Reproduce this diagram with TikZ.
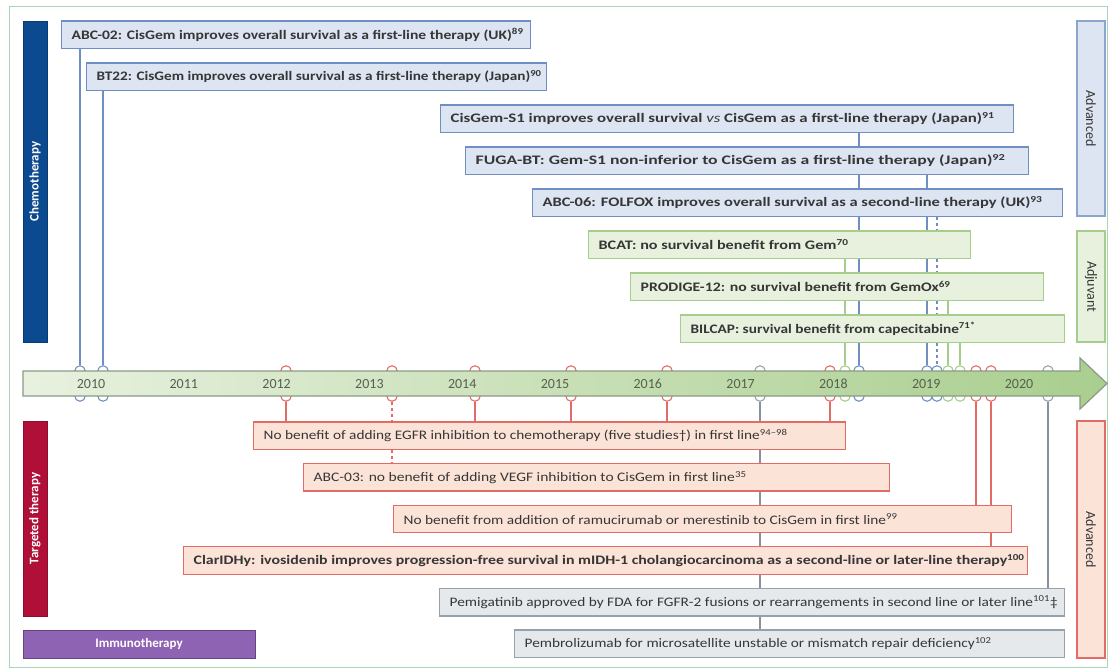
\documentclass[tikz,border=0pt]{standalone}
\usepackage{fontspec}
\usepackage{graphicx}
\setmainfont{Carlito}
\definecolor{chemoBar}{HTML}{0B4A8E}
\definecolor{targBar}{HTML}{B01038}
\definecolor{immBar}{HTML}{8F63B3}
\definecolor{cFill}{HTML}{DDE4F2}
\definecolor{cLine}{HTML}{6F8FC3}
\definecolor{aFill}{HTML}{E7F1DE}
\definecolor{aLine}{HTML}{A5CD8B}
\definecolor{tFill}{HTML}{FCE3D8}
\definecolor{tLine}{HTML}{E36B66}
\definecolor{gFill}{HTML}{E5E9EC}
\definecolor{gLine}{HTML}{97A1AA}
\definecolor{frameC}{HTML}{A6D6B6}
\definecolor{txt}{HTML}{363636}
\definecolor{barL}{HTML}{E8F1DF}
\definecolor{barR}{HTML}{A9CE8E}
\definecolor{barD}{HTML}{8A9A86}
\definecolor{yearC}{HTML}{55604F}
% #1 inner width of the box, #2 printed width of the text, #3 text
\newcommand\boxtxt[3]{\makebox[#1pt][l]{\resizebox{#2pt}{\height}{#3}}}
\pgfdeclarelayer{bg}
\pgfsetlayers{bg,main}
\tikzset{
  tbox/.style={draw, line width=1.3, anchor=west, minimum height=27.5, inner xsep=10, inner ysep=0,
    font=\fontsize{13}{15}\selectfont, text=txt},
  cbox/.style={tbox, fill=cFill, draw=cLine},
  abox/.style={tbox, fill=aFill, draw=aLine},
  rbox/.style={tbox, fill=tFill, draw=tLine},
  gbox/.style={tbox, fill=gFill, draw=gLine},
  sidebar/.style={minimum height=24, inner sep=0, text=white, font=\fontsize{13}{15}\selectfont\bfseries},
  rlabel/.style={rotate=-90, minimum height=28, inner sep=0, line width=1.3, text=txt, font=\fontsize{14}{16}\selectfont},
  ev/.style={circle, draw=#1, fill=white, line width=1.1, minimum size=10.5, inner sep=0},
  cl/.style={draw=cLine, line width=1.3},
  al/.style={draw=aLine, line width=1.3},
  tl/.style={draw=tLine, line width=1.3},
  gl/.style={draw=gLine!90!black, line width=1.3},
  yearlab/.style={text=yearC, font=\fontsize{14}{16}\selectfont}
}
\begin{document}
\begin{tikzpicture}[x=1pt,y=-1pt]
\useasboundingbox (0,0) rectangle (1109,670);
\draw[frameC, line width=1] (9,6) rectangle (1107,667);

% category bars
\node[sidebar, fill=chemoBar, draw=chemoBar!80!black, rotate=90, minimum width=321] (chemo) at (35,181.5) {Chemotherapy};
\node[sidebar, fill=targBar, draw=targBar!80!black, rotate=90, minimum width=195] (targ) at (35,518.5) {Targeted therapy};
\node[sidebar, fill=immBar, draw=immBar!70!black, minimum width=232, minimum height=28] (immuno) at (139,644) {Immunotherapy};

% right labels
\node[rlabel, fill=cFill, draw=cLine!80, minimum width=195] (adv1) at (1091,118.5) {Advanced};
\node[rlabel, fill=aFill, draw=aLine, minimum width=111] (adj) at (1091,286.5) {Adjuvant};
\node[rlabel, fill=tFill, draw=tLine, minimum width=237] (adv2) at (1091,539.5) {Advanced};

% chemotherapy / adjuvant boxes
\node[cbox] (abc02) at (61,34.75) {\boxtxt{449}{452}{\bfseries ABC-02: CisGem improves overall survival as a first-line therapy (UK)\textsuperscript{89}}};
\node[cbox] (bt22) at (86,76.75) {\boxtxt{440}{445}{\bfseries BT22: CisGem improves overall survival as a first-line therapy (Japan)\textsuperscript{90}}};
\node[cbox] (cisgem) at (440,118.75) {\boxtxt{553}{544}{\bfseries CisGem-S1 improves overall survival \textit{\mdseries vs} CisGem as a first-line therapy (Japan)\textsuperscript{91}}};
\node[cbox] (fuga) at (465,160.75) {\boxtxt{543}{530}{\bfseries FUGA-BT: Gem-S1 non-inferior to CisGem as a first-line therapy (Japan)\textsuperscript{92}}};
\node[cbox] (abc06) at (532,202.75) {\boxtxt{510}{500}{\bfseries ABC-06: FOLFOX improves overall survival as a second-line therapy (UK)\textsuperscript{93}}};
\node[abox] (bcat) at (588,244.75) {\boxtxt{362}{250}{\bfseries BCAT: no survival benefit from Gem\textsuperscript{70}}};
\node[abox] (prodige) at (630,286.75) {\boxtxt{393}{310}{\bfseries PRODIGE-12: no survival benefit from GemOx\textsuperscript{69}}};
\node[abox] (bilcap) at (680,328.75) {\boxtxt{364}{285}{\bfseries BILCAP: survival benefit from capecitabine\textsuperscript{71*}}};

% targeted / immunotherapy boxes
\node[rbox] (egfr) at (253,435.75) {\boxtxt{572}{524}{No benefit of adding EGFR inhibition to chemotherapy (five studies†) in first line\textsuperscript{94–98}}};
\node[rbox] (abc03) at (303,477.35) {\boxtxt{566}{433}{ABC-03: no benefit of adding VEGF inhibition to CisGem in first line\textsuperscript{35}}};
\node[rbox] (ramu) at (393,518.95) {\boxtxt{598}{494}{No benefit from addition of ramucirumab or merestinib to CisGem in first line\textsuperscript{99}}};
\node[rbox] (clar) at (183,560.55) {\boxtxt{824}{831}{\bfseries ClarIDHy: ivosidenib improves progression-free survival in mIDH-1 cholangiocarcinoma as a second-line or later-line therapy\textsuperscript{100}}};
\node[gbox] (pemi) at (439,602.15) {\boxtxt{605}{608}{Pemigatinib approved by FDA for FGFR-2 fusions or rearrangements in second line or later line\textsuperscript{101}‡}};
\node[gbox] (pembro) at (514,643.75) {\boxtxt{530}{467}{Pembrolizumab for microsatellite unstable or mismatch repair deficiency\textsuperscript{102}}};

% event circles on the timeline
\foreach \n/\x/\c in {1/80/cLine, 2/103/cLine, 3/286/tLine, 4/392/tLine, 5/475/tLine, 6/571/tLine,
  7/667/tLine, 8/760/gLine, 9/830/tLine, 10/845/aLine, 11/859/cLine, 12/927/cLine, 13/937/cLine,
  14/948/aLine, 15/960/aLine, 16/976/tLine, 17/991/tLine, 18/1048/gLine}{
  \node[ev=\c] (et\n) at (\x,371) {};
  \node[ev=\c] (eb\n) at (\x,396) {};
}

% timeline arrow
\path[draw=barD, line width=1.2, left color=barL, right color=barR]
  (23,371) -- (1080,371) -- (1080,358) -- (1107,383.5) -- (1080,409) -- (1080,396) -- (23,396) -- cycle;
\foreach \yr [count=\i from 0] in {2010,2011,2012,2013,2014,2015,2016,2017,2018,2019,2020}{
  \node[yearlab] (y\yr) at (91+92.8*\i,384) {\yr};
}

% connectors
\begin{pgfonlayer}{bg}
\draw[cl] (abc02.south -| et1) -- (et1.north);
\draw[cl] (bt22.south -| et2) -- (et2.north);
\draw[cl] (cisgem.south -| et11) -- (et11.north);
\draw[cl] (fuga.south -| et12) -- (et12.north);
\draw[cl, dashed] (abc06.south -| et13) -- (et13.north);
\draw[al] (bcat.south -| et10) -- (et10.north);
\draw[al] (prodige.south -| et14) -- (et14.north);
\draw[al] (bilcap.south -| et15) -- (et15.north);
\foreach \n in {3,5,6,7,9}{\draw[tl] (eb\n.south) -- (eb\n |- egfr.north);}
\draw[tl, dashed] (eb4.south) -- (eb4 |- abc03.north);
\draw[gl] (eb8.south) -- (eb8 |- pembro.north);
\draw[tl] (eb16.south) -- (eb16 |- ramu.north);
\draw[tl] (eb17.south) -- (eb17 |- clar.north);
\draw[gl] (eb18.south) -- (eb18 |- pemi.north);
\end{pgfonlayer}
\end{tikzpicture}
\end{document}
